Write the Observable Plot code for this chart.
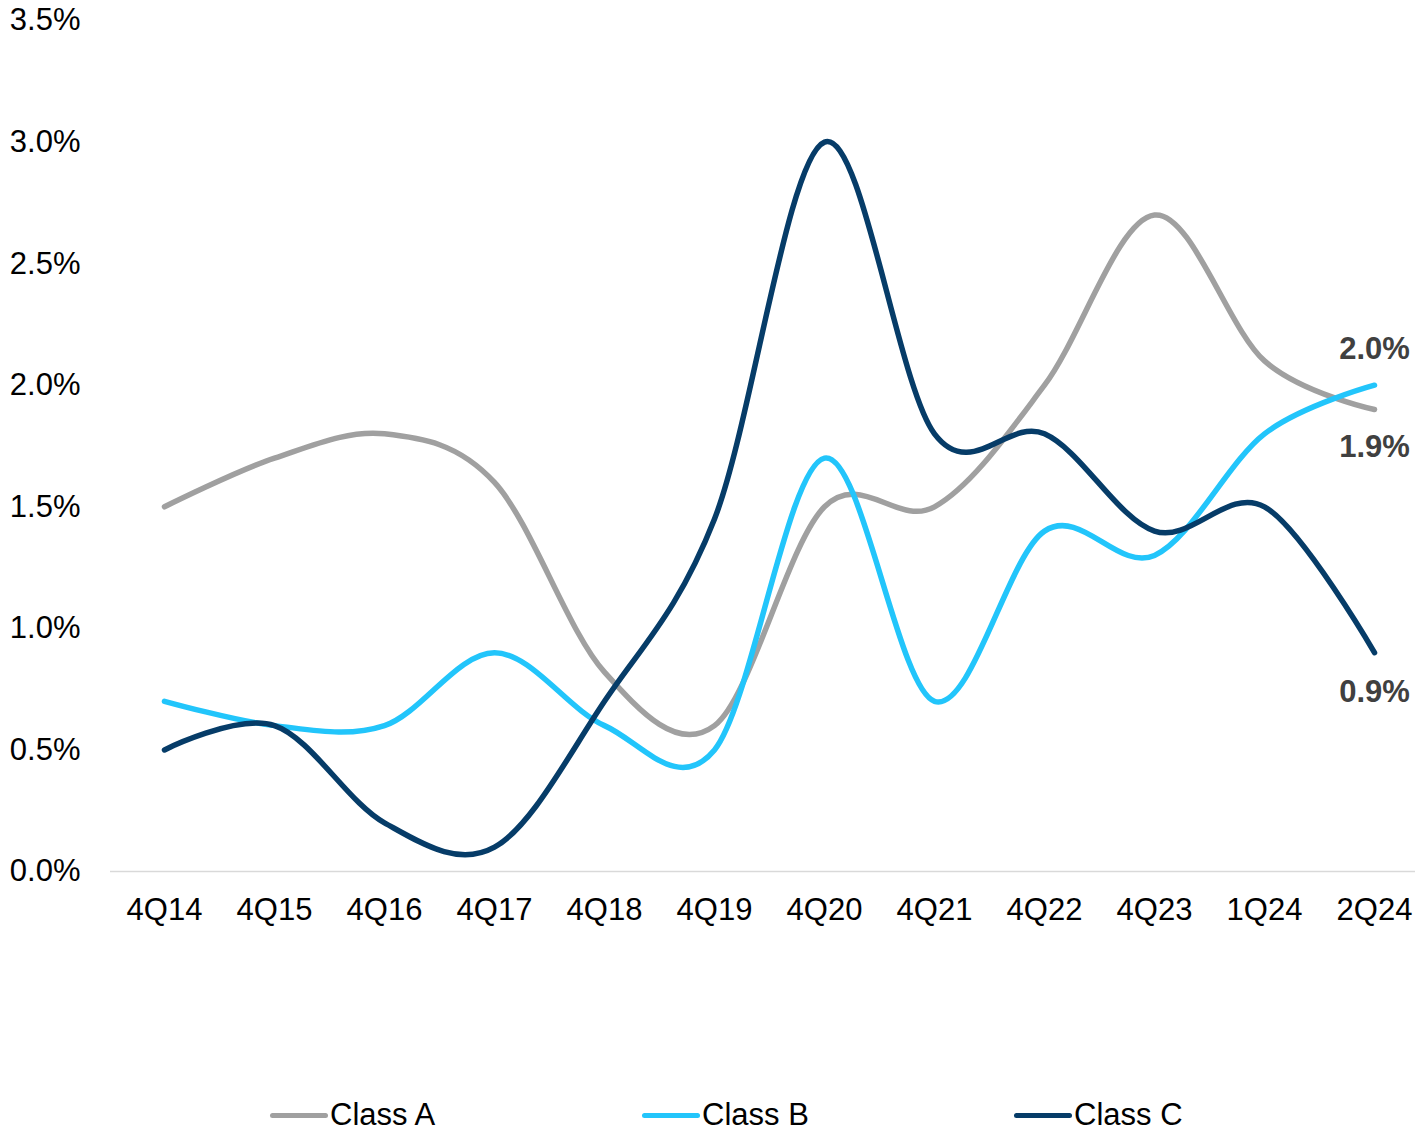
<!DOCTYPE html>
<html>
<head>
<meta charset="utf-8">
<script src="https://cdn.jsdelivr.net/npm/d3@7"></script>
<script src="https://cdn.jsdelivr.net/npm/@observablehq/plot@0.6"></script>
<style>
  html, body { margin: 0; padding: 0; background: #fff; }
  body { width: 1415px; height: 1134px; position: relative; overflow: hidden; font-family: "Liberation Sans", Arial, sans-serif; }
  #chart { position: absolute; left: 0; top: 0; }
  .legend-item { position: absolute; top: 1097px; height: 36px; display: flex; align-items: center; font-size: 31px; color: #000; }
  .swatch { width: 58px; height: 5px; border-radius: 3px; margin-right: 2px; }
</style>
</head>
<body>
<div id="chart"></div>
<div id="legend"></div>
<script>
const categories = ["4Q14","4Q15","4Q16","4Q17","4Q18","4Q19","4Q20","4Q21","4Q22","4Q23","1Q24","2Q24"];
const seriesNames = ["Class A","Class B","Class C"];
const classA = [1.5, 1.7, 1.8, 1.6, 0.82, 0.6, 1.5, 1.5, 2.0, 2.7, 2.1, 1.9];
const classB = [0.7, 0.6, 0.6, 0.9, 0.6, 0.5, 1.7, 0.7, 1.4, 1.3, 1.8, 2.0];
const classC = [0.5, 0.6, 0.2, 0.1, 0.7, 1.45, 3.0, 1.8, 1.8, 1.4, 1.5, 0.9];
const colors = ["#a0a0a0", "#22c5fb", "#063c68"];
const yTicks = [0, 0.5, 1.0, 1.5, 2.0, 2.5, 3.0, 3.5];
const endLabelOffsets = [38, -36, 39]; // A below, B above, C below

const seriesValues = [classA, classB, classC];
const data = [];
seriesNames.forEach((s, i) => {
  categories.forEach((c, j) => data.push({series: s, cat: c, value: seriesValues[i][j]}));
});
const lastPoints = seriesNames.map((s, i) => ({
  series: s, cat: categories[categories.length - 1],
  value: seriesValues[i][categories.length - 1], dy: endLabelOffsets[i]
}));

const font = '"Liberation Sans", Arial, sans-serif';

const chart = Plot.plot({
  width: 1415,
  height: 1085,
  marginLeft: 110,
  marginRight: 0,
  marginTop: 20,
  marginBottom: 214,
  style: {fontFamily: font, background: "#fff", overflow: "visible"},
  x: {type: "point", domain: categories, range: [163, 1375], padding: 0},
  y: {domain: [0, 3.5], range: [871, 20]},
  color: {domain: seriesNames, range: colors},
  marks: [
    Plot.ruleY([0], {stroke: "#d9d9d9", strokeWidth: 1.5}),
    Plot.axisY({ticks: yTicks, tickSize: 0, tickPadding: 30, fontSize: 31, tickFormat: d => d.toFixed(1) + "%", label: null, fill: "#000"}),
    Plot.axisX({tickSize: 0, tickPadding: 26, fontSize: 31, label: null, fill: "#000"}),
    Plot.line(data, {x: "cat", y: "value", z: "series", stroke: "series", strokeWidth: 5.5, curve: "cardinal", strokeLinecap: "round", strokeLinejoin: "round"}),
    ...lastPoints.map(p => Plot.text([p], {x: "cat", y: "value", dy: p.dy, text: d => d.value.toFixed(1) + "%", fontSize: 31, fontWeight: "bold", fill: "#404040", textAnchor: "middle"}))
  ]
});
document.getElementById("chart").appendChild(chart);

const legendLefts = [270, 642, 1014];
const legend = document.getElementById("legend");
seriesNames.forEach((s, i) => {
  const item = document.createElement("div");
  item.className = "legend-item";
  item.style.left = legendLefts[i] + "px";
  const sw = document.createElement("div");
  sw.className = "swatch";
  sw.style.background = colors[i];
  const t = document.createElement("span");
  t.textContent = s;
  item.appendChild(sw);
  item.appendChild(t);
  legend.appendChild(item);
});
</script>
</body>
</html>
